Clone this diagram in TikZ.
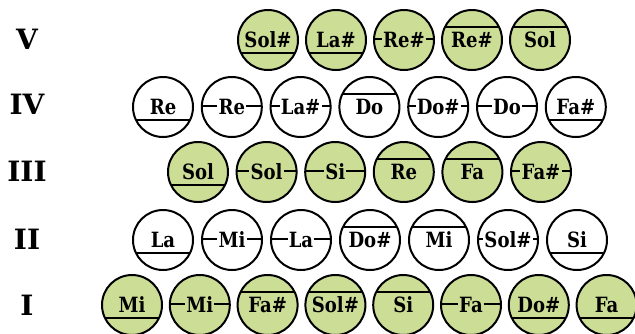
\documentclass[tikz,border=0pt]{standalone}
\usepackage{fontspec}
\setmainfont{DejaVu Serif}
\newfontfamily\notefont[FakeStretch=0.86]{DejaVu Serif}
\definecolor{NoteGreen}{RGB}{204,221,150}

% chord of the circle below, above or through the middle of the name
\newcommand{\staffLo}[1]{\draw[staff] ([shift={(-27,13)}]#1.center) -- ++(54,0);}
\newcommand{\staffHi}[1]{\draw[staff] ([shift={(-27,-13)}]#1.center) -- ++(54,0);}
\newcommand{\staffMid}[1]{\draw[staff] ([shift={(-30,-1.5)}]#1.center) -- ++(60,0);}

% name, x, y, text, line, colour
\newcommand{\pitch}[6]{%
  \node[pitch,fill=#6] (#1) at (#2,#3) {};
  \csname staff#5\endcsname{#1}
  \node[notename,fill=#6] (#1t) at (#2,#3+7.5) {#4};
}

\begin{document}
\begin{tikzpicture}[x=1pt,y=-1pt,
  pitch/.style={circle,draw=black,line width=2pt,minimum size=60pt,inner sep=0pt,outer sep=0pt},
  staff/.style={line width=2pt},
  notename/.style={font=\notefont\fontsize{21}{24}\selectfont\bfseries,inner sep=1.2pt,anchor=base},
  degree/.style={font=\fontsize{28}{32}\selectfont\bfseries,inner sep=0pt}]
\useasboundingbox (0,0) rectangle (635,333);

\node[degree] (dV) at (27,39) {V};
\node[degree] (dIV) at (27,104) {IV};
\node[degree] (dIII) at (27,171) {III};
\node[degree] (dII) at (27,239) {II};
\node[degree] (dI) at (27,305) {I};

% V
\foreach \k/\txt/\ln [count=\i] in {0/Sol\#/Lo,1/La\#/Lo,2/Re\#/Mid,3/Re\#/Hi,4/Sol/Hi}
  {\pitch{v\i}{268+68*\k}{40}{\txt}{\ln}{NoteGreen}}

% IV
\foreach \k/\txt/\ln [count=\i] in {0/Re/Lo,1/Re/Mid,2/La\#/Mid,3/Do/Hi,4/Do\#/Mid,5/Do/Mid,6/Fa\#/Lo}
  {\pitch{iv\i}{163+68.8*\k}{107}{\txt}{\ln}{white}}

% III
\foreach \k/\txt/\ln [count=\i] in {0/Sol/Lo,1/Sol/Mid,2/Si/Mid,3/Re/Hi,4/Fa/Hi,5/Fa\#/Mid}
  {\pitch{iii\i}{198+68.6*\k}{172}{\txt}{\ln}{NoteGreen}}

% II
\foreach \k/\txt/\ln [count=\i] in {0/La/Lo,1/Mi/Mid,2/La/Mid,3/Do\#/Hi,4/Mi/Hi,5/Sol\#/Mid,6/Si/Lo}
  {\pitch{ii\i}{163+69*\k}{240}{\txt}{\ln}{white}}

% I
\foreach \k/\txt/\ln [count=\i] in {0/Mi/Lo,1/Mi/Mid,2/Fa\#/Hi,3/Sol\#/Hi,4/Si/Hi,5/Fa/Mid,6/Do\#/Lo,7/Fa/Lo}
  {\pitch{i\i}{132+67.8*\k}{305}{\txt}{\ln}{NoteGreen}}

\end{tikzpicture}
\end{document}
